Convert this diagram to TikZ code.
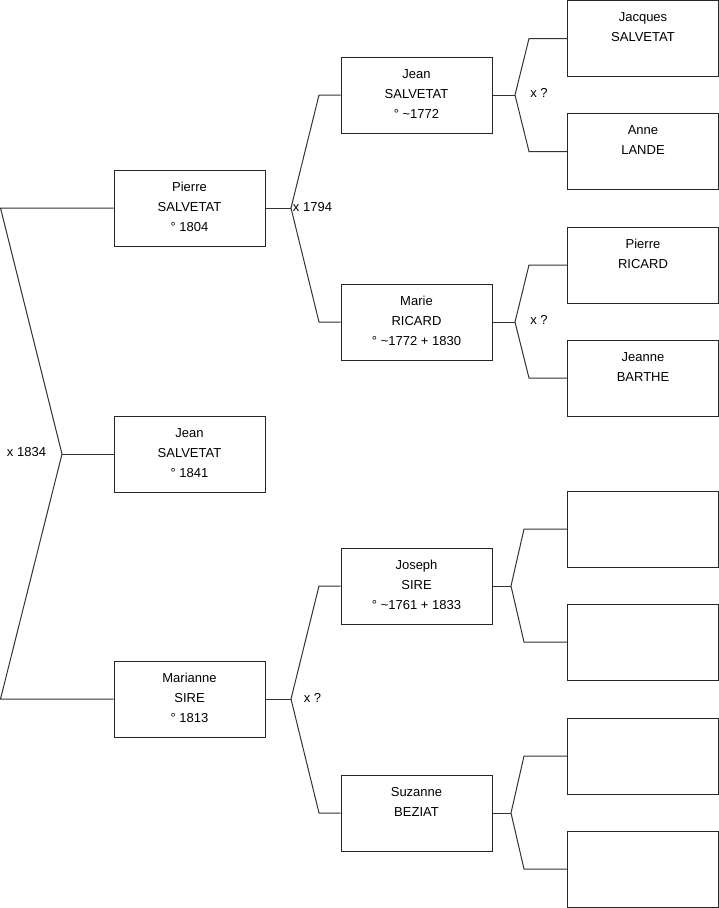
\documentclass[tikz,border=0pt]{standalone}
\usepackage{fontspec}
\setmainfont{Liberation Sans}
\begin{document}
\begin{tikzpicture}[x=1pt,y=-1pt,
  line width=1pt, draw=black!80,
  person/.style={draw=black!85, line width=1pt, rectangle, inner sep=0pt, minimum width=151pt, minimum height=76pt, font=\fontsize{13}{20}\selectfont},
  conn/.style={draw=black!80, line width=1pt},
  mlabel/.style={font=\fontsize{13}{15}\selectfont, inner sep=0pt}]
\newcommand{\ptext}[1]{\parbox[c][76pt][t]{151pt}{\centering\baselineskip=20pt\rule{0pt}{21pt}#1\par}}
\useasboundingbox (0,0) rectangle (719,908);
% generation 1
\node[person] (pierre) at (189.5,208) {\ptext{Pierre\\SALVETAT\\° 1804}};
\node[person] (jean) at (189.5,454) {\ptext{Jean\\SALVETAT\\° 1841}};
\node[person] (marianne) at (189.5,699) {\ptext{Marianne\\SIRE\\° 1813}};
% generation 2
\node[person] (jeanS) at (416.5,95) {\ptext{Jean\\SALVETAT\\° \textasciitilde1772}};
\node[person] (marie) at (416.5,322) {\ptext{Marie\\RICARD\\° \textasciitilde1772 + 1830}};
\node[person] (joseph) at (416.5,586) {\ptext{Joseph\\SIRE\\° \textasciitilde1761 + 1833}};
\node[person] (suzanne) at (416.5,813) {\ptext{Suzanne\\BEZIAT}};
% generation 3
\node[person] (jacques) at (643,38.5) {\ptext{Jacques\\SALVETAT}};
\node[person] (anne) at (643,151.5) {\ptext{Anne\\LANDE}};
\node[person] (pierreR) at (643,265) {\ptext{Pierre\\RICARD}};
\node[person] (jeanne) at (643,378) {\ptext{Jeanne\\BARTHE}};
\node[person] (e1) at (643,529) {};
\node[person] (e2) at (643,642) {};
\node[person] (e3) at (643,756) {};
\node[person] (e4) at (643,869) {};
% coordinates
\coordinate (r1) at (0.5,208);
\coordinate (j0) at (62,454);
\coordinate (r2) at (0.5,699);
\coordinate (j1) at (291,208);
\coordinate (a1) at (319,95);
\coordinate (a2) at (319,322);
\coordinate (j2) at (515,95);
\coordinate (b1) at (529,38.5);
\coordinate (b2) at (529,151.5);
\coordinate (j3) at (515,322);
\coordinate (c1) at (529,265);
\coordinate (c2) at (529,378);
\coordinate (j4) at (291,699);
\coordinate (d1) at (319,586);
\coordinate (d2) at (319,813);
\coordinate (j5) at (511,586);
\coordinate (f1) at (524,529);
\coordinate (f2) at (524,642);
\coordinate (j6) at (511,813);
\coordinate (g1) at (524,756);
\coordinate (g2) at (524,869);
% connectors
\draw[conn] (pierre.west) -- (r1) -- (j0) -- (r2) -- (marianne.west);
\draw[conn] (j0) -- (jean.west);
\draw[conn] (pierre.east) -- (j1);
\draw[conn] (jeanS.west) -- (a1) -- (j1) -- (a2) -- (marie.west);
\draw[conn] (jeanS.east) -- (j2);
\draw[conn] (jacques.west) -- (b1) -- (j2) -- (b2) -- (anne.west);
\draw[conn] (marie.east) -- (j3);
\draw[conn] (pierreR.west) -- (c1) -- (j3) -- (c2) -- (jeanne.west);
\draw[conn] (marianne.east) -- (j4);
\draw[conn] (joseph.west) -- (d1) -- (j4) -- (d2) -- (suzanne.west);
\draw[conn] (joseph.east) -- (j5);
\draw[conn] (e1.west) -- (f1) -- (j5) -- (f2) -- (e2.west);
\draw[conn] (suzanne.east) -- (j6);
\draw[conn] (e3.west) -- (g1) -- (j6) -- (g2) -- (e4.west);
% marriage labels
\node[mlabel] (m0) at (26.5,452) {x 1834};
\node[mlabel] (m1) at (312.5,207) {x 1794};
\node[mlabel] (m2) at (539,93) {x ?};
\node[mlabel] (m3) at (539,320) {x ?};
\node[mlabel] (m4) at (312.5,698) {x ?};
\end{tikzpicture}
\end{document}
